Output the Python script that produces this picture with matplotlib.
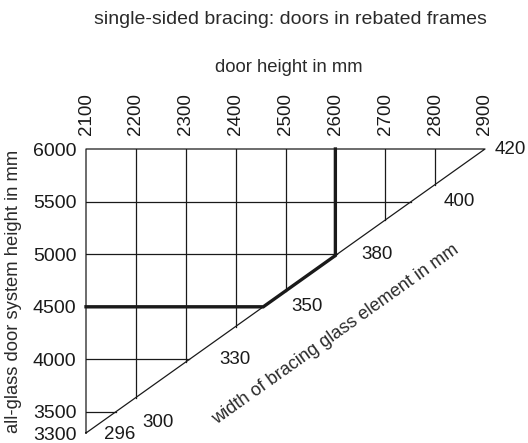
import numpy as np
import matplotlib.pyplot as plt

plt.rcParams['font.family'] = ['Liberation Sans', 'DejaVu Sans']

# door height (top scale) and all-glass system height (left scale), in mm
door_heights = [2100, 2200, 2300, 2400, 2500, 2600, 2700, 2800, 2900]
system_heights = [3300, 3500, 4000, 4500, 5000, 5500, 6000]

# width of the bracing glass element along the diagonal, in mm
glass_widths = [296, 300, 330, 350, 380, 400, 420]
glass_label_door = [2168, 2245, 2399, 2544, 2684, 2849, 2951]
glass_label_system = [3288, 3400, 4000, 4500, 5000, 5500, 6000]

# worked example
example_system = 4500
example_door = 2600

ink = '#1a1a1a'
soft = '#2a2a2a'

x0, x1 = door_heights[0], door_heights[-1]
y0, y1 = system_heights[0], system_heights[-1]


def diag_y(x):
    return y0 + (x - x0) * (y1 - y0) / (x1 - x0)


def diag_x(y):
    return x0 + (y - y0) * (x1 - x0) / (y1 - y0)


fig = plt.figure(figsize=(5.28, 4.43), dpi=100)
ax = fig.add_axes([86 / 528, 10 / 443, 399 / 528, 284 / 443])
ax.set_xlim(x0, x1)
ax.set_ylim(y0, y1)
for s in ax.spines.values():
    s.set_visible(False)

lw = 0.9
# outer triangle
ax.plot([x0, x0, x1, x0], [y0, y1, y1, y0], color=ink, lw=lw, clip_on=False)

# vertical grid lines down to the diagonal
for x in door_heights[1:-1]:
    ax.plot([x, x], [diag_y(x), y1], color=ink, lw=lw)

# horizontal grid lines out to the diagonal
for y in system_heights[1:-1]:
    ax.plot([x0, diag_x(y)], [y, y], color=ink, lw=lw)

# example path: system height -> diagonal -> door height
xa = diag_x(example_system)
ax.plot([x0, xa, example_door, example_door],
        [example_system, example_system, diag_y(example_door), y1],
        color=ink, lw=2.4, solid_joinstyle='miter', clip_on=False)

# glass width values along the diagonal
for w, gx, gy in zip(glass_widths, glass_label_door, glass_label_system):
    ax.text(gx, gy, str(w), ha='center', va='center', fontsize=13.5,
            color=ink)

# axes scales
ax.xaxis.tick_top()
ax.set_xticks(door_heights)
ax.set_xticklabels([str(v) for v in door_heights], rotation=90,
                   fontsize=13.5, color=ink)
ax.set_yticks(system_heights)
ax.set_yticklabels([str(v) for v in system_heights], fontsize=14,
                   color=ink)
ax.tick_params(axis='x', length=0, pad=10)
ax.tick_params(axis='y', length=0, pad=7)

# diagonal caption, rotated along the hypotenuse
p0 = ax.transData.transform((x0, y0))
p1 = ax.transData.transform((x1, y1))
angle = np.degrees(np.arctan2(p1[1] - p0[1], p1[0] - p0[0]))
ax.text(2601, 4232, 'width of bracing glass element in mm', rotation=angle,
        rotation_mode='anchor', ha='center', va='center', fontsize=13.1,
        color=soft)

fig.text(290 / 528, 1 - 20 / 443, 'single-sided bracing: doors in rebated frames',
         ha='center', va='center', fontsize=14, color=soft)
fig.text(289 / 528, 1 - 68 / 443, 'door height in mm',
         ha='center', va='center', fontsize=13.3, color=soft)
fig.text(14 / 528, 1 - 291 / 443, 'all-glass door system height in mm',
         rotation=90, ha='center', va='center', fontsize=13.2, color=soft)

fig.savefig('out.png', dpi=100)
